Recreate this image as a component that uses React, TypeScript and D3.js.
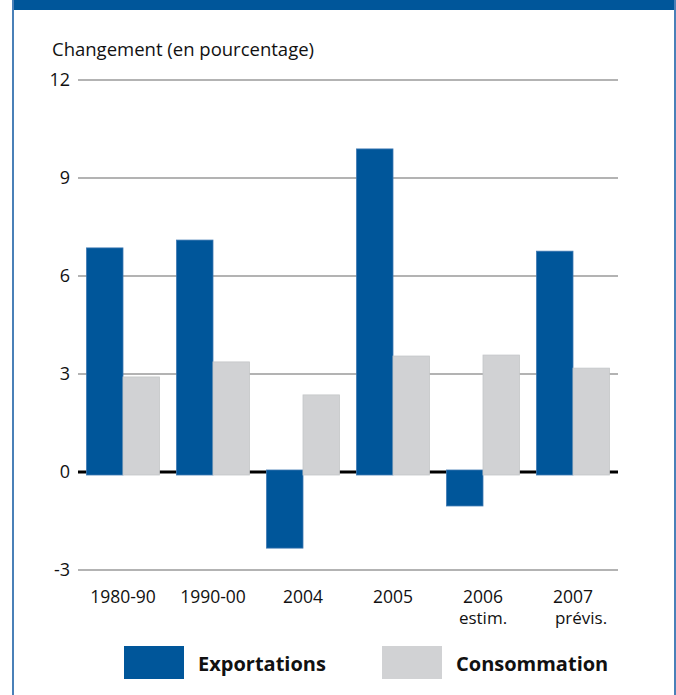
import React from "react";
import * as d3 from "d3";

const categories = ["1980-90", "1990-00", "2004", "2005", "2006", "2007"];
const subLabels = ["", "", "", "", "estim.", "prévis."];
const exportations = [6.86, 7.1, -2.33, 9.89, -1.04, 6.76];
const consommation = [2.91, 3.37, 2.36, 3.55, 3.58, 3.18];
const yTicks = [-3, 0, 3, 6, 9, 12];
const seriesNames = ["Exportations", "Consommation"];
const seriesColors = ["#00569A", "#D1D2D4"];
const seriesStrokes = ["#3D78B2", "#C4C6C8"];

const W = 676;
const H = 695;
const FONT = "'Open Sans', 'Noto Sans', sans-serif";

export default function App() {
  const x = d3.scaleBand<string>().domain(categories).range([78, 618]).padding(0);
  const groupW = 73;
  const x1 = d3
    .scaleBand<string>()
    .domain(seriesNames)
    .range([(x.bandwidth() - groupW) / 2, (x.bandwidth() + groupW) / 2])
    .padding(0);
  const y = d3.scaleLinear().domain([-3, 12]).range([570, 80]);
  const y0 = y(0);
  const data = [exportations, consommation];

  return (
    <svg
      width={W}
      height={H}
      style={{ position: "absolute", left: 0, top: 0, display: "block", background: "#fff" }}
      fontFamily={FONT}
    >
      {/* frame */}
      <rect x={12} y={0} width={W - 12} height={10} fill="#00569A" />
      <line x1={13} x2={13} y1={0} y2={H} stroke="#4A80B8" strokeWidth={2} />
      <line x1={675} x2={675} y1={0} y2={H} stroke="#4A80B8" strokeWidth={2} />

      <text x={52} y={56} fontSize={18.5} fill="#111">
        Changement (en pourcentage)
      </text>

      {/* gridlines */}
      {yTicks.map((t) => (
        <g key={t}>
          {t !== 0 && (
            <line x1={78} x2={618} y1={y(t)} y2={y(t)} stroke="#9A9A9A" strokeWidth={1.5} />
          )}
          <text
            x={70}
            y={y(t)}
            dy="0.36em"
            textAnchor="end"
            fontSize={18}
            fill="#111"
          >
            {t}
          </text>
        </g>
      ))}
      <line x1={78} x2={618} y1={y0} y2={y0} stroke="#000" strokeWidth={3} />

      {/* bars */}
      {categories.map((c, i) => (
        <g key={c} transform={`translate(${x(c)},0)`}>
          {data.map((s, k) => {
            const v = s[i];
            const top = v >= 0 ? y(v) : y0 - 2;
            const bottom = v >= 0 ? y0 + 3 : y(v);
            return (
              <rect
                key={k}
                x={x1(seriesNames[k])}
                y={top}
                width={x1.bandwidth()}
                height={bottom - top}
                fill={seriesColors[k]}
                stroke={seriesStrokes[k]}
                strokeWidth={0.8}
              />
            );
          })}
          <text
            x={x.bandwidth() / 2}
            y={603}
            textAnchor="middle"
            fontSize={17.5}
            fill="#111"
          >
            {c}
          </text>
          {subLabels[i] && (
            <text
              x={x.bandwidth() / 2 + (i === 5 ? 8 : 0)}
              y={624}
              textAnchor="middle"
              fontSize={17}
              fill="#111"
            >
              {subLabels[i]}
            </text>
          )}
        </g>
      ))}

      {/* legend */}
      {seriesNames.map((n, k) => {
        const lx = k === 0 ? 124 : 382;
        return (
          <g key={n}>
            <rect x={lx} y={646} width={60} height={33} fill={seriesColors[k]} />
            <text
              x={lx + 74}
              y={671}
              fontSize={20}
              fontWeight="bold"
              fill="#111"
            >
              {n}
            </text>
          </g>
        );
      })}
    </svg>
  );
}
